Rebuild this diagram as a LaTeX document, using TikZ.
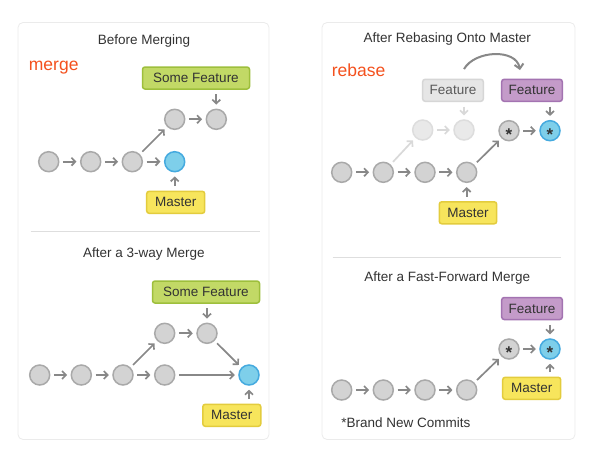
\documentclass[tikz,border=0pt]{standalone}
\usepackage{fontspec}
\setmainfont{Liberation Sans}
\usepackage{xcolor}
\usetikzlibrary{positioning,arrows.meta}

\definecolor{txt}{HTML}{333333}
\definecolor{redtxt}{HTML}{F4511E}
\definecolor{arr}{HTML}{888888}
\definecolor{cgray}{HTML}{D3D3D3}
\definecolor{cgrayd}{HTML}{A9A9A9}
\definecolor{cghost}{HTML}{E9E9E9}
\definecolor{cghostd}{HTML}{DDDDDD}
\definecolor{cblue}{HTML}{7ECFEA}
\definecolor{cblued}{HTML}{45AADF}
\definecolor{tgreen}{HTML}{C2D966}
\definecolor{tgreend}{HTML}{9EBF3C}
\definecolor{tyell}{HTML}{F7E55C}
\definecolor{tyelld}{HTML}{E3CC3D}
\definecolor{tpurp}{HTML}{C49BC9}
\definecolor{tpurpd}{HTML}{A373B1}
\definecolor{tghost}{HTML}{E6E6E6}
\definecolor{tghostd}{HTML}{D6D6D6}

\begin{document}
\begin{tikzpicture}[x=1pt,y=-1pt,
  panel/.style={draw=black!8, fill=white, rounded corners=5pt, line width=0.8pt},
  sep/.style={draw=black!13, line width=1.2pt},
  title/.style={font=\fontsize{13.5}{16}\selectfont, text=txt},
  cmd/.style={font=\fontsize{17.5}{20}\selectfont, text=redtxt, anchor=west, inner sep=0pt},
  commit/.style={circle, minimum size=20pt, inner sep=0pt, line width=1.5pt, draw=cgrayd, fill=cgray},
  headc/.style={commit, draw=cblued, fill=cblue},
  ghostc/.style={commit, draw=cghostd, fill=cghost},
  newc/.style={label={[font=\bfseries\fontsize{17}{17}\selectfont, text=txt, yshift=-3.7pt, inner sep=0pt]center:*}},
  tag/.style={rounded corners=2.5pt, line width=1.5pt, minimum height=22pt, inner sep=0pt, font=\fontsize{13.5}{16}\selectfont, text=txt},
  feattag/.style={tag, fill=tgreen, draw=tgreend},
  masttag/.style={tag, fill=tyell, draw=tyelld},
  purptag/.style={tag, fill=tpurp, draw=tpurpd},
  oldtag/.style={tag, fill=tghost, draw=tghostd, text=black!65},
  link/.style={-{Straight Barb[length=3.8pt,width=8pt]}, line width=1.7pt, draw=arr, shorten <=3.5pt, shorten >=3.5pt},
  tick/.style={link, shorten <=4.5pt, shorten >=4pt},
  ghostlink/.style={link, draw=black!15}
]
  \useasboundingbox (0,0) rectangle (594,459);

  % panels
  \draw[panel] (18,22.5) rectangle (269,439.5);
  \draw[panel] (322,22.5) rectangle (575,439.5);
  \draw[sep] (30.7,231.7) -- (260.3,231.7);
  \draw[sep] (332.7,257.3) -- (560.7,257.3);

  % merge: before
  \node[title] (t1) at (144,40.7) {Before Merging};
  \node[cmd] (mrg) at (28.7,67.5) {merge};
  \node[commit] (a1) at (48.7,161.7) {};
  \node[commit] (a2) at (90.7,161.7) {};
  \node[commit] (a3) at (132.3,161.7) {};
  \node[headc] (a4) at (174.7,161.7) {};
  \node[commit] (b1) at (174.7,119.3) {};
  \node[commit] (b2) at (216.3,119.3) {};
  \node[feattag, minimum width=107pt] (sf1) at (196,78) {Some Feature};
  \node[masttag, minimum width=58pt] (ms1) at (175.7,202.3) {Master};
  \draw[link] (a1) -- (a2);
  \draw[link] (a2) -- (a3);
  \draw[link] (a3) -- (a4);
  \draw[link] (a3) -- (b1);
  \draw[link] (b1) -- (b2);
  \draw[tick] (sf1.south -| b2) -- (b2);
  \draw[tick] (ms1.north -| a4) -- (a4);

  % merge: after
  \node[title] (t2) at (144,254) {After a 3-way Merge};
  \node[commit] (c1) at (39.7,375) {};
  \node[commit] (c2) at (81.3,375) {};
  \node[commit] (c3) at (123,375) {};
  \node[commit] (c4) at (164.7,375) {};
  \node[headc] (c5) at (249,375) {};
  \node[commit] (d1) at (164.7,333.3) {};
  \node[commit] (d2) at (207,333.3) {};
  \node[feattag, minimum width=107pt] (sf2) at (206,292) {Some Feature};
  \node[masttag, minimum width=58pt] (ms2) at (231.8,415.3) {Master};
  \draw[link] (c1) -- (c2);
  \draw[link] (c2) -- (c3);
  \draw[link] (c3) -- (c4);
  \draw[link] (c4) -- (c5);
  \draw[link] (c3) -- (d1);
  \draw[link] (d1) -- (d2);
  \draw[link] (d2) -- (c5);
  \draw[tick] (sf2.south -| d2) -- (d2);
  \draw[tick] (ms2.north -| c5) -- (c5);

  % rebase
  \node[title] (t3) at (447.3,39.3) {After Rebasing Onto Master};
  \node[cmd] (rbs) at (331.7,70) {rebase};
  \node[commit] (e1) at (341.7,172.3) {};
  \node[commit] (e2) at (383.3,172.3) {};
  \node[commit] (e3) at (425,172.3) {};
  \node[commit] (e4) at (466.7,172.3) {};
  \node[ghostc] (g1) at (422.7,130) {};
  \node[ghostc] (g2) at (464,130) {};
  \node[commit, newc] (n1) at (509,130.7) {};
  \node[headc, newc] (n2) at (550,130.7) {};
  \node[oldtag, minimum width=60.6pt] (of) at (453,90.3) {Feature};
  \node[purptag, minimum width=60.6pt] (nf) at (532,90.3) {Feature};
  \node[masttag, minimum width=57.4pt] (ms3) at (468,212.8) {Master};
  \draw[link] (e1) -- (e2);
  \draw[link] (e2) -- (e3);
  \draw[link] (e3) -- (e4);
  \draw[ghostlink] (e2) -- (g1);
  \draw[ghostlink] (g1) -- (g2);
  \draw[ghostlink, shorten <=4.5pt, shorten >=4pt] (of.south -| g2) -- (g2);
  \draw[link] (e4) -- (n1);
  \draw[link] (n1) -- (n2);
  \draw[tick] (nf.south -| n2) -- (n2);
  \draw[tick] (ms3.north -| e4) -- (e4);
  \draw[link, line width=2pt, -{Straight Barb[length=4.5pt,width=9pt]}, shorten <=0pt, shorten >=0pt]
    ([xshift=11pt,yshift=9.5pt]of.north) to[out=60,in=100] ([xshift=-12pt,yshift=8.5pt]nf.north);

  % fast-forward
  \node[title] (t4) at (447.3,278.3) {After a Fast-Forward Merge};
  \node[commit] (f1) at (341.7,390) {};
  \node[commit] (f2) at (383.3,390) {};
  \node[commit] (f3) at (425,390) {};
  \node[commit] (f4) at (466.7,390) {};
  \node[commit, newc] (m1) at (509,349) {};
  \node[headc, newc] (m2) at (550,349) {};
  \node[purptag, minimum width=60.6pt] (nf2) at (532,308.5) {Feature};
  \node[masttag, minimum width=58pt] (ms4) at (531.7,388.3) {Master};
  \draw[link] (f1) -- (f2);
  \draw[link] (f2) -- (f3);
  \draw[link] (f3) -- (f4);
  \draw[link] (f4) -- (m1);
  \draw[link] (m1) -- (m2);
  \draw[tick] (nf2.south -| m2) -- (m2);
  \draw[tick] (ms4.north -| m2) -- (m2);
  \node[title, anchor=west, inner sep=0pt] (note) at (341.2,422.3) {*Brand New Commits};
\end{tikzpicture}
\end{document}
